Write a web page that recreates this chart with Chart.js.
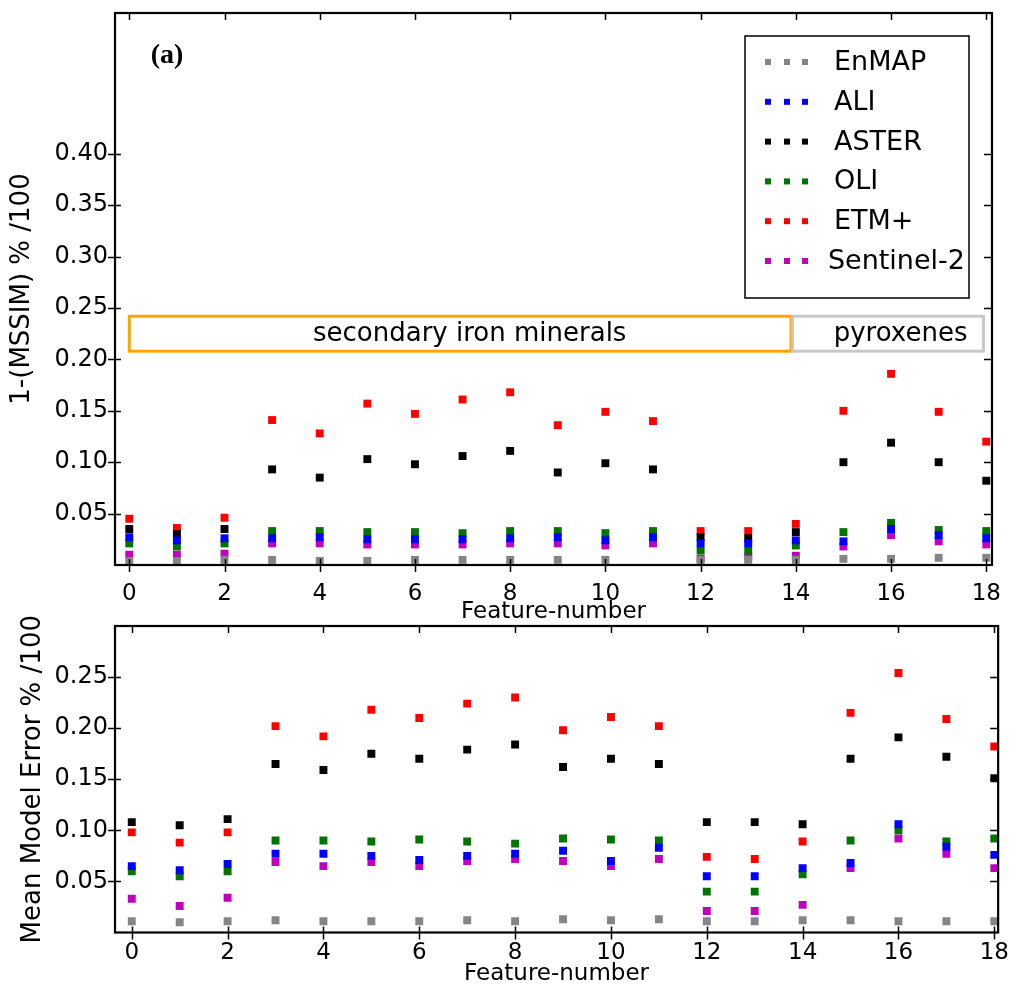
<!DOCTYPE html>
<html>
<head>
<meta charset="utf-8">
<script src="https://cdn.jsdelivr.net/npm/chart.js@4.4.1/dist/chart.umd.min.js"></script>
<style>
  html, body { margin: 0; padding: 0; background: #fff; }
  body { width: 1016px; height: 988px; position: relative; overflow: hidden; }
  .panel { position: absolute; left: 0; }
  #top-panel { top: 0; }
  #bottom-panel { top: 600px; }
</style>
</head>
<body>
<div class="panel" id="top-panel"><canvas id="mssim-chart" width="1016" height="626"></canvas></div>
<div class="panel" id="bottom-panel"><canvas id="error-chart" width="1016" height="388"></canvas></div>
<script>
const features = [0, 1, 2, 3, 4, 5, 6, 7, 8, 9, 10, 11, 12, 13, 14, 15, 16, 17, 18];
const featureTicks = [0, 2, 4, 6, 8, 10, 12, 14, 16, 18];
const sensors = ["EnMAP", "ALI", "ASTER", "OLI", "ETM+", "Sentinel-2"];
const sensorColours = ["#858585", "#0000ff", "#000000", "#007300", "#ff0000", "#bf00bf"];

// panel (a): 1-(MSSIM) % /100
const mssimTicks = [0.05, 0.10, 0.15, 0.20, 0.25, 0.30, 0.35, 0.40];
const mssimEnmap = [0.004, 0.004, 0.005, 0.005, 0.004, 0.004, 0.005, 0.005, 0.005, 0.005, 0.005, null, 0.005, 0.005, 0.005, 0.006, 0.006, 0.007, 0.007];
const mssimAli = [0.027, 0.024, 0.026, 0.026, 0.027, 0.025, 0.025, 0.025, 0.026, 0.027, 0.024, 0.027, 0.021, 0.021, 0.024, 0.023, 0.035, 0.029, 0.026];
const mssimAster = [0.035, 0.030, 0.035, 0.093, 0.085, 0.103, 0.098, 0.106, 0.111, 0.090, 0.099, 0.093, 0.027, 0.026, 0.032, 0.100, 0.119, 0.100, 0.082];
const mssimOli = [0.021, 0.018, 0.021, 0.033, 0.033, 0.032, 0.032, 0.031, 0.033, 0.033, 0.031, 0.033, 0.014, 0.014, 0.019, 0.032, 0.041, 0.034, 0.033];
const mssimEtm = [0.045, 0.036, 0.046, 0.141, 0.128, 0.157, 0.147, 0.161, 0.168, 0.136, 0.149, 0.140, 0.033, 0.033, 0.040, 0.150, 0.186, 0.149, 0.120];
const mssimSentinel = [0.010, 0.010, 0.011, 0.021, 0.021, 0.020, 0.020, 0.020, 0.021, 0.021, 0.019, 0.021, 0.006, 0.008, 0.009, 0.018, 0.029, 0.023, 0.020];

// mineral groups marked in panel (a)
const groupNames = ["secondary iron minerals", "pyroxenes"];
const groupStart = [0, 13.93];
const groupEnd = [13.9, 17.94];
const groupLabelAt = [7.15, 16.2];
const groupColours = ["#ffa500", "#c8c8c8"];

// lower panel: mean model error % /100
const errorTicks = [0.05, 0.10, 0.15, 0.20, 0.25];
const errorEnmap = [0.011, 0.010, 0.011, 0.012, 0.011, 0.011, 0.011, 0.012, 0.011, 0.013, 0.012, 0.013, 0.011, 0.011, 0.012, 0.012, 0.011, 0.011, 0.011];
const errorAli = [0.065, 0.061, 0.067, 0.077, 0.077, 0.075, 0.071, 0.075, 0.077, 0.080, 0.070, 0.083, 0.055, 0.055, 0.063, 0.068, 0.106, 0.084, 0.076];
const errorAster = [0.108, 0.105, 0.111, 0.165, 0.159, 0.175, 0.170, 0.179, 0.184, 0.162, 0.170, 0.165, 0.108, 0.108, 0.106, 0.170, 0.191, 0.172, 0.151];
const errorOli = [0.060, 0.055, 0.060, 0.090, 0.090, 0.089, 0.091, 0.089, 0.087, 0.092, 0.091, 0.090, 0.040, 0.040, 0.057, 0.090, 0.100, 0.089, 0.092];
const errorEtm = [0.098, 0.088, 0.098, 0.202, 0.192, 0.218, 0.210, 0.224, 0.230, 0.198, 0.211, 0.202, 0.074, 0.072, 0.089, 0.215, 0.254, 0.209, 0.182];
const errorSentinel = [0.033, 0.026, 0.034, 0.069, 0.065, 0.069, 0.065, 0.070, 0.072, 0.070, 0.065, 0.072, 0.021, 0.021, 0.027, 0.063, 0.092, 0.077, 0.063];

const FONT = "'DejaVu Sans', sans-serif";

const toDatasets = (seriesList) =>
  seriesList.map((values, i) => ({
    label: sensors[i],
    data: features.map((f, j) => ({ x: f, y: values[j] })),
    backgroundColor: sensorColours[i],
    borderColor: sensorColours[i],
    pointStyle: "rect",
    pointRadius: 5.6,
    pointBorderWidth: 0,
    showLine: false,
  }));

// box around the plot area plus tick marks on every side
const framePlugin = {
  id: "frame",
  afterDatasetsDraw(chart) {
    const { ctx, chartArea: a, scales } = chart;
    ctx.save();
    ctx.strokeStyle = "#000";
    ctx.lineWidth = 1.5;
    scales.x.ticks.forEach((t) => {
      const px = Math.round(scales.x.getPixelForValue(t.value)) + 0.5;
      ctx.beginPath();
      ctx.moveTo(px, a.bottom - 6);
      ctx.lineTo(px, a.bottom + 7);
      ctx.moveTo(px, a.top);
      ctx.lineTo(px, a.top + 7);
      ctx.stroke();
    });
    scales.y.ticks.forEach((t) => {
      const py = Math.round(scales.y.getPixelForValue(t.value)) + 0.5;
      ctx.beginPath();
      ctx.moveTo(a.left - 7, py);
      ctx.lineTo(a.left + 6, py);
      ctx.moveTo(a.right - 8, py);
      ctx.lineTo(a.right, py);
      ctx.stroke();
    });
    ctx.lineWidth = 2.2;
    ctx.strokeRect(a.left, a.top, a.right - a.left, a.bottom - a.top);
    ctx.restore();
  },
};

// group boxes and the (a) label on the upper panel
const groupPlugin = {
  id: "groups",
  afterDatasetsDraw(chart) {
    const { ctx, scales } = chart;
    const { x, y } = scales;
    ctx.save();
    ctx.lineWidth = 3;
    const yTop = y.getPixelForValue(0.242);
    const yBot = y.getPixelForValue(0.208);
    groupNames.forEach((name, i) => {
      const x0 = x.getPixelForValue(groupStart[i]);
      const x1 = x.getPixelForValue(groupEnd[i]);
      ctx.strokeStyle = groupColours[i];
      ctx.strokeRect(x0, yTop, x1 - x0, yBot - yTop);
      ctx.fillStyle = "#000";
      ctx.font = "26px " + FONT;
      ctx.textAlign = "center";
      ctx.textBaseline = "middle";
      ctx.fillText(name, x.getPixelForValue(groupLabelAt[i]), (yTop + yBot) / 2 + 1);
    });
    ctx.font = "bold 28px 'Liberation Serif', serif";
    ctx.textAlign = "center";
    ctx.fillText("(a)", 167, 56);
    ctx.restore();
  },
};

// matplotlib style legend, drawn inside the upper panel
const legendPlugin = {
  id: "boxLegend",
  afterDraw(chart) {
    const { ctx } = chart;
    const box = { left: 745, top: 36, right: 969, bottom: 298 };
    ctx.save();
    ctx.fillStyle = "#fff";
    ctx.fillRect(box.left, box.top, box.right - box.left, box.bottom - box.top);
    ctx.strokeStyle = "#000";
    ctx.lineWidth = 1.5;
    ctx.strokeRect(box.left, box.top, box.right - box.left, box.bottom - box.top);
    ctx.font = "27px " + FONT;
    ctx.textBaseline = "middle";
    ctx.textAlign = "left";
    chart.data.datasets.forEach((ds, i) => {
      const cy = 62 + i * 39.8;
      ctx.fillStyle = ds.backgroundColor;
      [768, 787, 805].forEach((cx) => ctx.fillRect(cx - 3, cy - 3, 6, 6));
      ctx.fillStyle = "#000";
      const w = ctx.measureText(ds.label).width;
      const tx = Math.min(834, box.right - 4 - w);
      ctx.fillText(ds.label, tx, cy + 1);
    });
    ctx.restore();
  },
};

const makeOptions = ({ xMin, xMax, yMax, yTicks, yTitle, yTitlePad, topPad, xAxisHeight, tickPad }) => ({
  responsive: false,
  animation: false,
  layout: { padding: { top: topPad, right: 14, left: 0, bottom: 0 } },
  plugins: { legend: { display: false }, tooltip: { enabled: false } },
  scales: {
    x: {
      type: "linear",
      min: xMin,
      max: xMax,
      afterBuildTicks: (scale) => {
        scale.ticks = featureTicks.map((v) => ({ value: v }));
      },
      afterFit: (scale) => {
        scale.height = xAxisHeight;
      },
      grid: { display: false, drawTicks: false },
      border: { display: false },
      ticks: {
        color: "#000",
        padding: tickPad,
        font: { family: FONT, size: 23 },
        callback: (v) => String(v),
      },
      title: {
        display: true,
        text: "Feature-number",
        color: "#000",
        padding: { top: 0, bottom: 0 },
        font: { family: FONT, size: 23 },
      },
    },
    y: {
      type: "linear",
      min: 0,
      max: yMax,
      afterBuildTicks: (scale) => {
        scale.ticks = yTicks.map((v) => ({ value: v }));
      },
      afterFit: (scale) => {
        scale.width = 115;
      },
      grid: { display: false, drawTicks: false },
      border: { display: false },
      ticks: {
        color: "#000",
        padding: 7,
        font: { family: FONT, size: 24, lineHeight: 0.25 },
        callback: (v) => Number(v).toFixed(2),
      },
      title: {
        display: true,
        text: yTitle,
        color: "#000",
        padding: { top: yTitlePad, bottom: 0 },
        font: { family: FONT, size: 26 },
      },
    },
  },
});

new Chart(document.getElementById("mssim-chart"), {
  type: "scatter",
  data: {
    datasets: toDatasets([mssimEnmap, mssimAli, mssimAster, mssimOli, mssimEtm, mssimSentinel]),
  },
  options: makeOptions({
    xMin: -0.3,
    xMax: 18.12,
    yMax: 0.537,
    yTicks: mssimTicks,
    yTitle: "1-(MSSIM) % /100",
    yTitlePad: 7,
    topPad: 13,
    xAxisHeight: 61,
    tickPad: 15,
  }),
  plugins: [groupPlugin, framePlugin, legendPlugin],
});

new Chart(document.getElementById("error-chart"), {
  type: "scatter",
  data: {
    datasets: toDatasets([errorEnmap, errorAli, errorAster, errorOli, errorEtm, errorSentinel]),
  },
  options: makeOptions({
    xMin: -0.35,
    xMax: 18.08,
    yMax: 0.30,
    yTicks: errorTicks,
    yTitle: "Mean Model Error % /100",
    yTitlePad: 18,
    topPad: 26,
    xAxisHeight: 55.5,
    tickPad: 7,
  }),
  plugins: [framePlugin],
});
</script>
</body>
</html>
